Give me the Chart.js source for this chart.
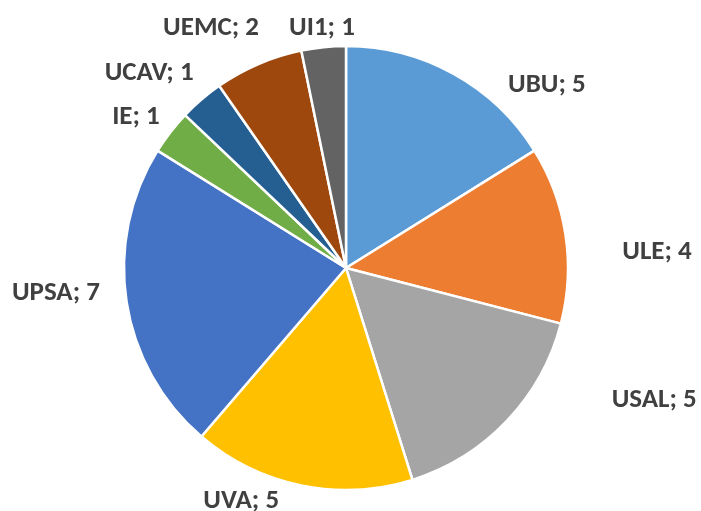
<!DOCTYPE html>
<html>
<head>
<meta charset="utf-8">
<script src="https://cdn.jsdelivr.net/npm/chart.js@4/dist/chart.umd.min.js"></script>
<style>
  body { margin: 0; background: #fff; }
  #wrap { width: 701px; height: 511px; }
</style>
</head>
<body>
<div id="wrap"><canvas id="myChart" width="701" height="511"></canvas></div>
<script>
// datos del grafico
var universidades = ['UBU', 'ULE', 'USAL', 'UVA', 'UPSA', 'IE', 'UCAV', 'UEMC', 'UI1'];
var valores = [5, 4, 5, 5, 7, 1, 1, 2, 1];
var colores = ['#5B9BD5', '#ED7D31', '#A5A5A5', '#FFC000', '#4472C4', '#70AD47', '#255E91', '#9E480E', '#636363'];

// posicion de las etiquetas: [angulo en grados, factor del radio]
var posEtiquetas = [
    [-42.5, 1.227],
    [-3.1, 1.403],
    [23.0, 1.508],
    [114.3, 1.147],
    [175.3, 1.311],
    [215.9, 1.168],
    [224.9, 1.252],
    [240.75, 1.244],
    [264.3, 1.091]
];

//Plugin para dibujar "NOMBRE; valor" fuera de cada sector
var etiquetasPlugin = {
    id: 'etiquetas',
    afterDatasetsDraw: function (chart) {
        var ctx = chart.ctx;
        var meta = chart.getDatasetMeta(0);
        ctx.save();
        ctx.font = 'bold 27px Carlito, "Liberation Sans Narrow", "Open Sans", sans-serif';
        ctx.fillStyle = '#404040';
        ctx.textAlign = 'center';
        ctx.textBaseline = 'middle';
        meta.data.forEach(function (arc, i) {
            var p = arc.getProps(['x', 'y', 'outerRadius'], true);
            var ang = posEtiquetas[i][0] * Math.PI / 180;
            var r = p.outerRadius * posEtiquetas[i][1];
            var texto = universidades[i] + '; ' + valores[i];
            ctx.fillText(texto, p.x + r * Math.cos(ang), p.y + r * Math.sin(ang) + 1);
        });
        ctx.restore();
    }
};

var ctx = document.getElementById('myChart').getContext('2d');

var myChart = new Chart(ctx, {
    type: 'pie',
    data: {
        labels: universidades,
        datasets: [{
            data: valores,
            backgroundColor: colores,
            borderColor: '#ffffff',
            borderWidth: 2.5
        }]
    },
    options: {
        responsive: false,
        animation: false,
        radius: 222,
        layout: {
            padding: { left: 0, right: 9, top: 25, bottom: 0 }
        },
        plugins: {
            legend: { display: false },
            tooltip: { enabled: false }
        }
    },
    plugins: [etiquetasPlugin]
});
</script>
</body>
</html>
